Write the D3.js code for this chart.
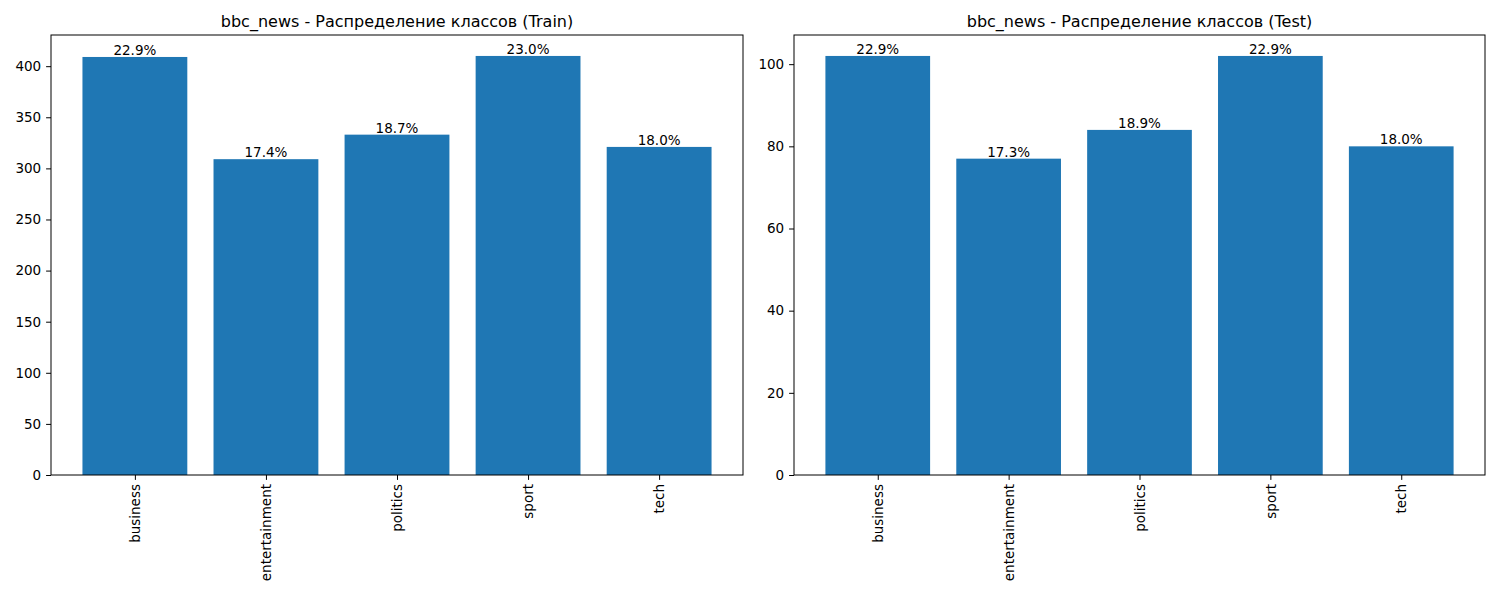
<!DOCTYPE html>
<html lang="en">
  <head>
    <meta charset="UTF-8" />
    <script src="https://d3js.org/d3.v7.min.js"></script>
    <title>bbc_news</title>
    <style>
      body { margin: 0; background: #fff; }
      text { font-family: "DejaVu Sans", sans-serif; }
    </style>
  </head>
  <body>
    <script>
      const categories = ["business", "entertainment", "politics", "sport", "tech"];
      const trainCounts = [409, 309, 333, 410, 321];
      const trainPct = ["22.9%", "17.4%", "18.7%", "23.0%", "18.0%"];
      const trainTicks = [0, 50, 100, 150, 200, 250, 300, 350, 400];
      const testCounts = [102, 77, 84, 102, 80];
      const testPct = ["22.9%", "17.3%", "18.9%", "22.9%", "18.0%"];
      const testTicks = [0, 20, 40, 60, 80, 100];

      const svg = d3.select("body").append("svg")
        .attr("width", 1500).attr("height", 600);

      function panel(x0, x1, title, counts, pct, ticks) {
        const top = 35, bottom = 475;
        const yMax = d3.max(counts) * 1.05;
        const x = d3.scaleLinear().domain([-0.64, categories.length - 1 + 0.64]).range([x0, x1]);
        const y = d3.scaleLinear().domain([0, yMax]).range([bottom, top]);
        const g = svg.append("g");

        g.selectAll("rect").data(counts).join("rect")
          .attr("x", (d, i) => x(i - 0.4))
          .attr("width", x(0.4) - x(-0.4))
          .attr("y", d => y(d))
          .attr("height", d => bottom - y(d))
          .attr("fill", "#1f77b4");

        g.selectAll("text.pct").data(counts).join("text")
          .attr("class", "pct")
          .attr("x", (d, i) => x(i))
          .attr("y", d => y(d) - 2)
          .attr("text-anchor", "middle")
          .attr("font-size", 13.5)
          .text((d, i) => pct[i]);

        const ay = g.append("g").attr("transform", `translate(${x0},0)`)
          .call(d3.axisLeft(y).tickValues(ticks).tickSize(4.9).tickPadding(4.9));
        ay.selectAll("text").attr("font-size", 13.5).attr("font-family", "DejaVu Sans");
        ay.select(".domain").remove();

        const ax = g.append("g").attr("transform", `translate(0,${bottom})`)
          .call(d3.axisBottom(x).tickValues(d3.range(categories.length))
            .tickFormat(i => categories[i]).tickSize(4.9));
        ax.select(".domain").remove();
        ax.selectAll("text")
          .attr("font-size", 13.5).attr("font-family", "DejaVu Sans")
          .attr("transform", "rotate(-90)")
          .attr("text-anchor", "end")
          .attr("x", -9).attr("y", 0).attr("dy", "0.35em");

        g.append("rect").attr("x", x0).attr("y", top)
          .attr("width", x1 - x0).attr("height", bottom - top)
          .attr("fill", "none").attr("stroke", "#000").attr("stroke-width", 1);

        g.append("text").attr("x", (x0 + x1) / 2).attr("y", top - 8)
          .attr("text-anchor", "middle").attr("font-size", 16)
          .text(title);
      }

      panel(51, 743, "bbc_news - Распределение классов (Train)", trainCounts, trainPct, trainTicks);
      panel(794, 1485, "bbc_news - Распределение классов (Test)", testCounts, testPct, testTicks);
    </script>
  </body>
</html>
